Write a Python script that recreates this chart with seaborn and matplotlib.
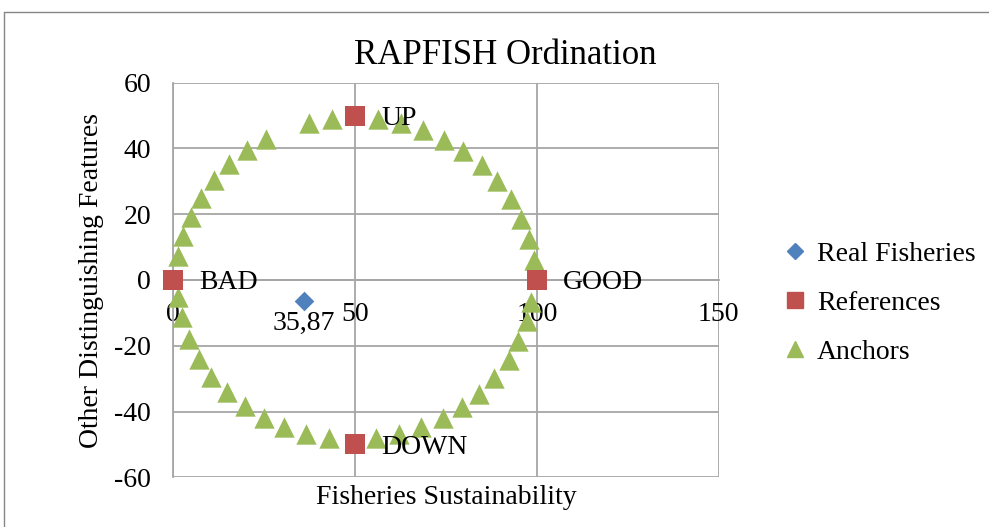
import numpy as np
import pandas as pd
import seaborn as sns
import matplotlib.pyplot as plt
from matplotlib.lines import Line2D

sns.set_style("white", {"text.color": "black", "xtick.color": "black",
                        "ytick.color": "black", "axes.labelcolor": "black"})
plt.rcParams['font.family'] = ['Liberation Serif', 'DejaVu Serif']
plt.rcParams['axes.unicode_minus'] = False

# data
real_x = [35.87]
real_y = [-6.5]
real_labels = ["35,87"]

ref_x = [0, 100, 50, 50]
ref_y = [0, 0, 50, -50]
ref_labels = ["BAD", "GOOD", "UP", "DOWN"]

anchor_x = [1.4, 2.7, 4.8, 7.6, 11.2, 15.4, 20.3, 25.6, 37.3, 43.6, 56.4, 62.6,
            68.8, 74.5, 79.8, 84.9, 89.1, 92.8, 95.6, 97.8, 99.2,
            98.3, 97.2, 94.9, 92.2, 88.2, 84.1, 79.4, 74.1, 68.1, 62.0, 55.8,
            42.8, 36.6, 30.4, 24.9, 19.7, 14.9, 10.5, 7.1, 4.4, 2.3, 1.4]
anchor_y = [7.3, 13.4, 19.3, 25.0, 30.4, 35.3, 39.4, 43.0, 47.8, 49.1, 49.0, 47.8,
            45.5, 42.5, 39.2, 34.9, 30.1, 24.7, 18.7, 12.4, 6.1,
            -6.6, -12.6, -18.7, -24.2, -29.7, -34.8, -38.6, -42.1, -44.7, -46.7, -47.9,
            -48.2, -46.9, -44.7, -41.9, -38.4, -34.2, -29.5, -23.9, -17.9, -11.3, -5.3]

x_ticks = [0, 50, 100, 150]
y_ticks = [-60, -40, -20, 0, 20, 40, 60]

blue = "#4F81BD"
red = "#C0504D"
green = "#9BBB59"
grid_col = "#a6a6a6"

real = pd.DataFrame({"x": real_x, "y": real_y})
refs = pd.DataFrame({"x": ref_x, "y": ref_y})
anchors = pd.DataFrame({"x": anchor_x, "y": anchor_y})

fig = plt.figure(figsize=(9.89, 5.27), dpi=100)
ax = fig.add_axes([0.1752, 0.0943, 0.5516, 0.7488])

sns.scatterplot(data=anchors, x="x", y="y", marker="^", s=215, color=green,
                linewidth=0, ax=ax, zorder=3, clip_on=False)
sns.scatterplot(data=refs, x="x", y="y", marker="s", s=200, color=red,
                linewidth=0, ax=ax, zorder=4, clip_on=False)
sns.scatterplot(data=real, x="x", y="y", marker="D", s=100, color=blue,
                linewidth=0, ax=ax, zorder=5, clip_on=False)

for x, y, t in zip(ref_x, ref_y, ref_labels):
    ax.annotate(t, (x, y), xytext=(19, -2), textcoords="offset points",
                ha="left", va="center", fontsize=20, zorder=6)
for x, y, t in zip(real_x, real_y, real_labels):
    ax.annotate(t, (x, y), xytext=(0, -16), textcoords="offset points",
                ha="center", va="center", fontsize=20, zorder=6)

ax.set_xlim(0, 150)
ax.set_ylim(-60, 60)
ax.set_xticks(x_ticks)
ax.set_yticks(y_ticks)
ax.grid(True, color=grid_col, linewidth=1.3)
ax.set_axisbelow(True)

for s in ["top", "right"]:
    ax.spines[s].set_visible(False)
ax.spines["bottom"].set_position(("data", 0))
ax.spines["bottom"].set_color(grid_col)
ax.spines["bottom"].set_linewidth(1.3)
ax.spines["left"].set_color(grid_col)
ax.spines["left"].set_linewidth(1.3)

ax.tick_params(axis="x", length=0, pad=16, labelsize=20)
ax.tick_params(axis="y", length=6, width=1.3, color=grid_col, pad=10, labelsize=20)

ax.set_xlabel("")
ax.set_ylabel("")
fig.text(446 / 989, 1 - 497 / 527, "Fisheries Sustainability", ha="center",
         va="center", fontsize=20)
fig.text(92 / 989, 1 - 280 / 527, "Other Distinguishing Features", ha="center",
         va="center", rotation=90, fontsize=20)
fig.text(505 / 989, 1 - 55 / 527, "RAPFISH Ordination", ha="center",
         va="center", fontsize=25)

handles = [
    Line2D([], [], marker="D", color=blue, linestyle="", markersize=8),
    Line2D([], [], marker="s", color=red, linestyle="", markersize=11),
    Line2D([], [], marker="^", color=green, linestyle="", markersize=11),
]
fig.legend(handles, ["Real Fisheries", "References", "Anchors"],
           loc="center left", bbox_to_anchor=(781 / 989, 1 - 303 / 527),
           frameon=False, fontsize=20, handlelength=1.0, handletextpad=0.3,
           labelspacing=0.85, borderpad=0, borderaxespad=0)

# outer chart border
fig.add_artist(Line2D([4 / 989, 4 / 989], [0, 1 - 12 / 527],
                      transform=fig.transFigure, color="#868686", linewidth=1))
fig.add_artist(Line2D([4 / 989, 1], [1 - 12 / 527, 1 - 12 / 527],
                      transform=fig.transFigure, color="#868686", linewidth=1))

fig.savefig("out.png", dpi=100)
